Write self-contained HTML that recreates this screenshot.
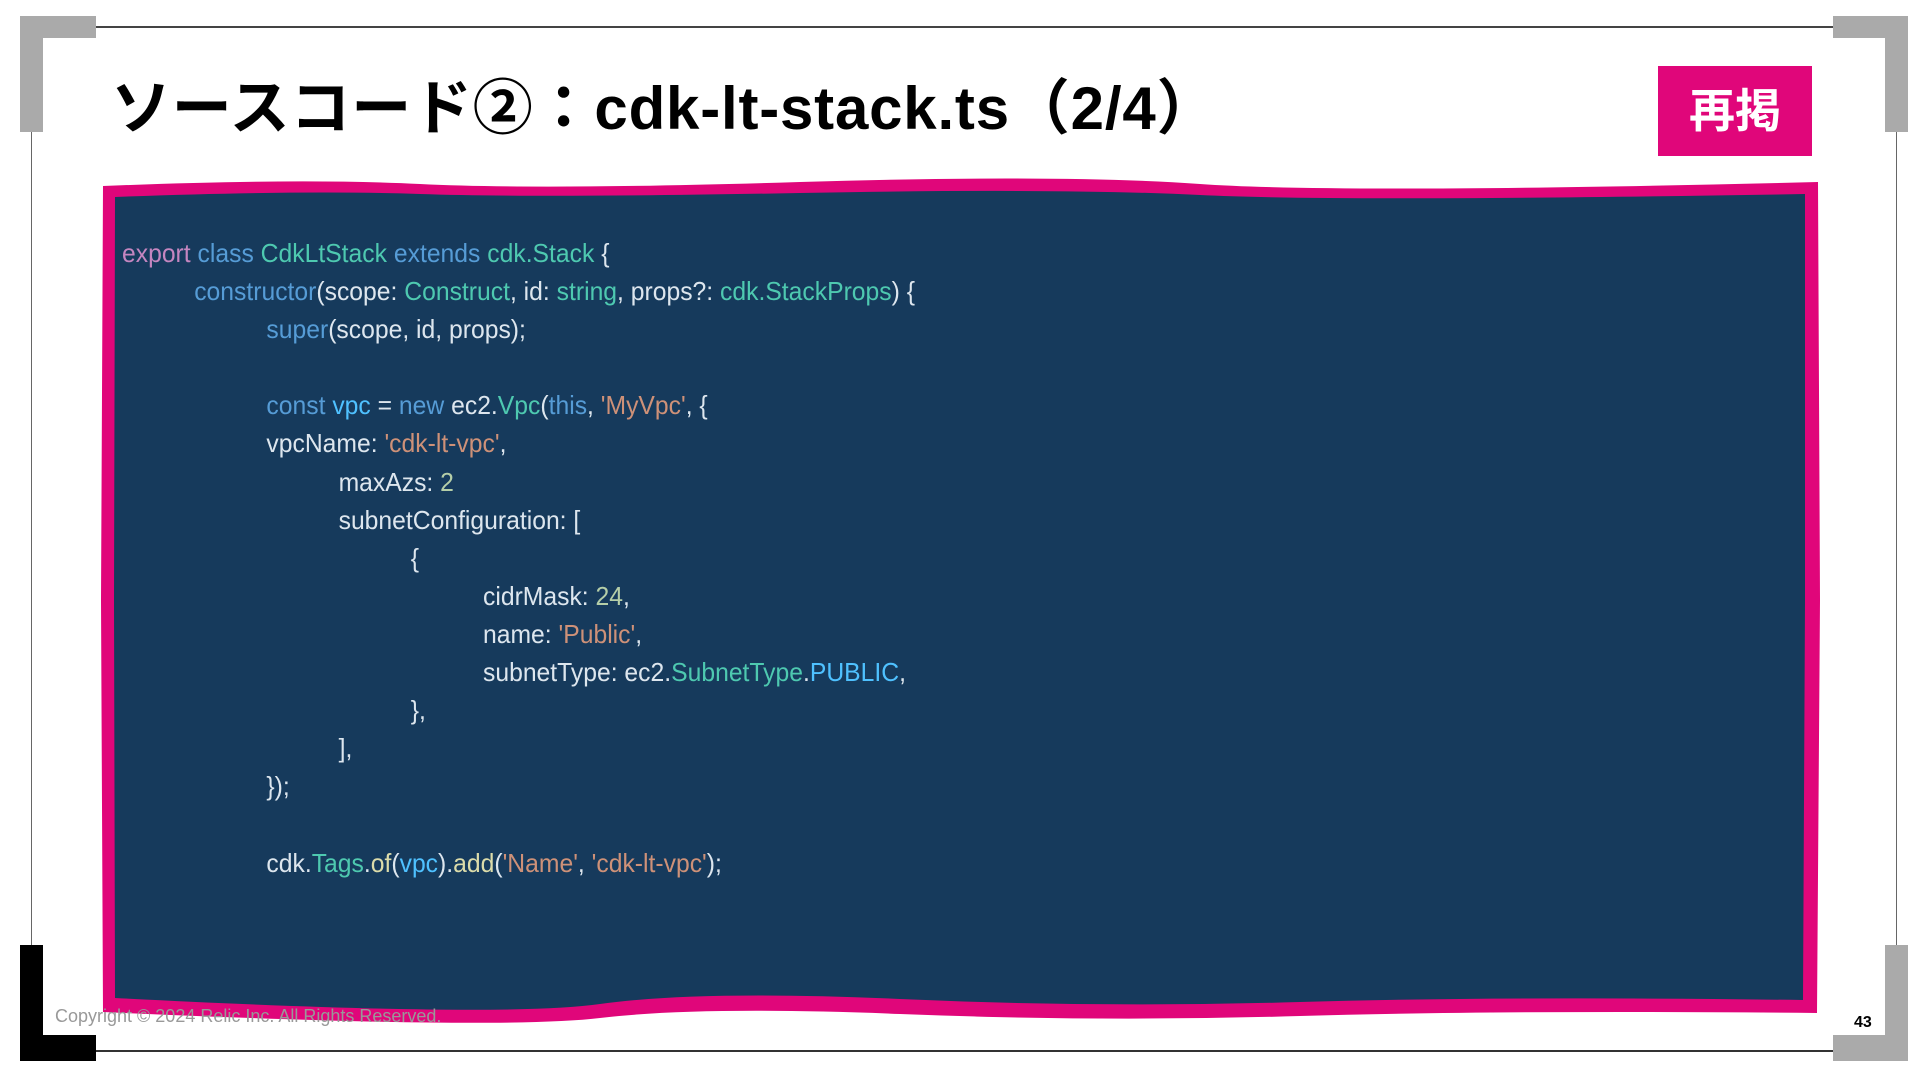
<!DOCTYPE html>
<html><head><meta charset="utf-8"><style>
html,body{margin:0;padding:0;background:#fff;}
body{width:1920px;height:1080px;position:relative;overflow:hidden;font-family:"Liberation Sans","Noto Sans CJK JP",sans-serif;}
.a{position:absolute;}
.code{position:absolute;left:122px;top:234px;transform:scaleX(0.95);transform-origin:0 0;font-family:"Liberation Sans",sans-serif;font-size:26px;color:#dde6ee;white-space:nowrap;}
.code div{height:38.1px;line-height:38.1px;position:relative;white-space:nowrap;}
.p{color:#c586c0}.k{color:#569cd6}.t{color:#4ec9b0}.s{color:#ce9178}.n{color:#b5cea8}.f{color:#dcdcaa}.v{color:#4fc1ff}
</style></head><body>
<div class="a" style="left:96px;top:26px;width:1737px;height:2px;background:#444"></div>
<div class="a" style="left:96px;top:1050px;width:1737px;height:2px;background:#333"></div>
<div class="a" style="left:31px;top:132px;width:1px;height:813px;background:#666"></div>
<div class="a" style="left:1896px;top:132px;width:1px;height:813px;background:#666"></div>
<div class="a" style="left:20px;top:16px;width:76px;height:22px;background:#aaa"></div>
<div class="a" style="left:20px;top:16px;width:23px;height:116px;background:#aaa"></div>
<div class="a" style="left:1833px;top:16px;width:75px;height:22px;background:#aaa"></div>
<div class="a" style="left:1885px;top:16px;width:23px;height:116px;background:#aaa"></div>
<div class="a" style="left:20px;top:945px;width:23px;height:116px;background:#000"></div>
<div class="a" style="left:20px;top:1035px;width:76px;height:26px;background:#000"></div>
<div class="a" style="left:1885px;top:945px;width:23px;height:116px;background:#aaa"></div>
<div class="a" style="left:1833px;top:1035px;width:75px;height:26px;background:#aaa"></div>
<div class="a" style="left:111px;top:60px;font-size:60px;font-weight:bold;color:#000;white-space:nowrap;letter-spacing:0.8px">ソースコード②：cdk-lt-stack.ts（2/4）</div>
<div class="a" style="left:1658px;top:66px;width:154px;height:90px;background:#e0067a;color:#fff;font-size:46px;font-weight:bold;text-align:center;line-height:90px">再掲</div>
<svg class="a" style="left:0;top:0" width="1920" height="1080">
<path d="M103,186 Q300,178 420,184 T800,182 T1200,184 T1818,182 L1820,600 L1817,1013 Q1500,1010 1300,1016 T900,1014 T600,1018 T103,1012 L101,600 Z" fill="#e0067a"/>
<path d="M115,197 Q300,190 420,194 T800,193 T1200,195 T1805,194 L1805,600 L1803,1000 Q1500,996 1300,1002 T900,999 T600,1004 T115,998 L114,600 Z" fill="#163a5c"/>
</svg>
<div class="code"><div><span class="p">export</span> <span class="k">class</span> <span class="t">CdkLtStack</span> <span class="k">extends</span> <span class="t">cdk.Stack</span> {</div><div style="left:76px"><span class="k">constructor</span>(scope: <span class="t">Construct</span>, id: <span class="t">string</span>, props?: <span class="t">cdk.StackProps</span>) {</div><div style="left:152px"><span class="k">super</span>(scope, id, props);</div><div></div><div style="left:152px"><span class="k">const</span> <span class="v">vpc</span> = <span class="k">new</span> ec2.<span class="t">Vpc</span>(<span class="k">this</span>, <span class="s">'MyVpc'</span>, {</div><div style="left:152px">vpcName: <span class="s">'cdk-lt-vpc'</span>,</div><div style="left:228px">maxAzs: <span class="n">2</span></div><div style="left:228px">subnetConfiguration: [</div><div style="left:304px">{</div><div style="left:380px">cidrMask: <span class="n">24</span>,</div><div style="left:380px">name: <span class="s">'Public'</span>,</div><div style="left:380px">subnetType: ec2.<span class="t">SubnetType</span>.<span class="v">PUBLIC</span>,</div><div style="left:304px">},</div><div style="left:228px">],</div><div style="left:152px">});</div><div></div><div style="left:152px">cdk.<span class="t">Tags</span>.<span class="f">of</span>(<span class="v">vpc</span>).<span class="f">add</span>(<span class="s">'Name'</span>, <span class="s">'cdk-lt-vpc'</span>);</div></div>
<div class="a" style="left:55px;top:1006px;font-size:18px;color:#999">Copyright © 2024 Relic Inc. All Rights Reserved.</div>
<div class="a" style="left:1854px;top:1014px;font-size:16px;font-weight:bold;color:#000">43</div>
</body></html>
